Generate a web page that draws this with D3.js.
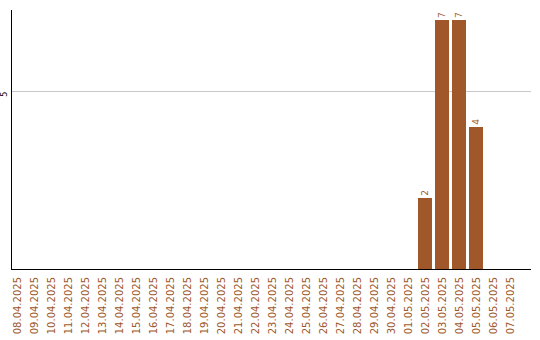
<!DOCTYPE html>
<html>
<head>
<meta charset="utf-8">
<script src="https://cdn.jsdelivr.net/npm/d3@7"></script>
<style>
  html, body { margin: 0; padding: 0; background: #fff; }
  svg { display: block; }
</style>
</head>
<body>
<svg id="chart" width="540" height="340"></svg>
<script>
// Daily counts, 08.04.2025 – 07.05.2025
const dates = [
  "08.04.2025","09.04.2025","10.04.2025","11.04.2025","12.04.2025",
  "13.04.2025","14.04.2025","15.04.2025","16.04.2025","17.04.2025",
  "18.04.2025","19.04.2025","20.04.2025","21.04.2025","22.04.2025",
  "23.04.2025","24.04.2025","25.04.2025","26.04.2025","27.04.2025",
  "28.04.2025","29.04.2025","30.04.2025","01.05.2025","02.05.2025",
  "03.05.2025","04.05.2025","05.05.2025","06.05.2025","07.05.2025"
];
const counts = [
  0,0,0,0,0, 0,0,0,0,0,
  0,0,0,0,0, 0,0,0,0,0,
  0,0,0,0,2, 7,7,4,0,0
];
const yTicks = [5];

const svg = d3.select("#chart");
const plotLeft = 11, plotRight = 531, plotTop = 10, plotBottom = 269;
const barColor = "#a0572a";

const x = d3.scaleBand()
  .domain(dates)
  .range([plotLeft - 2.5, plotLeft - 2.5 + 17 * dates.length])
  .paddingInner(3 / 17)
  .paddingOuter(1.5 / 17);

const y = d3.scaleLinear()
  .domain([0, 7.28])
  .range([plotBottom, plotTop]);

// horizontal gridlines
svg.append("g")
  .selectAll("line")
  .data(yTicks)
  .join("line")
  .attr("x1", plotLeft).attr("x2", plotRight)
  .attr("y1", d => Math.round(y(d)) + 0.5)
  .attr("y2", d => Math.round(y(d)) + 0.5)
  .attr("stroke", "#c8c8c8");

// y tick labels (rotated)
svg.append("g")
  .selectAll("text")
  .data(yTicks)
  .join("text")
  .attr("transform", d => `translate(7,${y(d) + 3}) rotate(-90)`)
  .attr("text-anchor", "middle")
  .attr("font-family", "DejaVu Sans, sans-serif")
  .attr("font-size", 8)
  .attr("fill", "#000")
  .text(d => d);

// bars
const data = dates.map((d, i) => ({ date: d, value: counts[i] }));
svg.append("g")
  .selectAll("rect")
  .data(data.filter(d => d.value > 0))
  .join("rect")
  .attr("x", d => Math.round(x(d.date)))
  .attr("width", Math.round(x.bandwidth()))
  .attr("y", d => Math.round(y(d.value)))
  .attr("height", d => plotBottom - Math.round(y(d.value)))
  .attr("fill", barColor);

// value labels above bars
svg.append("g")
  .selectAll("text")
  .data(data.filter(d => d.value > 0))
  .join("text")
  .attr("transform", d => `translate(${x(d.date) + x.bandwidth() / 2 + 3},${y(d.value) - 2}) rotate(-90)`)
  .attr("text-anchor", "start")
  .attr("font-family", "DejaVu Sans, sans-serif")
  .attr("font-size", 9)
  .attr("fill", barColor)
  .text(d => d.value);

// axis lines
svg.append("line")
  .attr("x1", plotLeft + 0.5).attr("x2", plotLeft + 0.5)
  .attr("y1", plotTop).attr("y2", plotBottom + 1)
  .attr("stroke", "#000");
svg.append("line")
  .attr("x1", plotLeft).attr("x2", plotRight)
  .attr("y1", plotBottom + 0.5).attr("y2", plotBottom + 0.5)
  .attr("stroke", "#000");

// date labels (rotated)
svg.append("g")
  .selectAll("text")
  .data(dates)
  .join("text")
  .attr("transform", d => `translate(${x(d) + x.bandwidth() / 2 + 3.5},277) rotate(-90)`)
  .attr("text-anchor", "end")
  .attr("font-family", "DejaVu Sans, sans-serif")
  .attr("font-size", 10)
  .attr("fill", barColor)
  .text(d => d);
</script>
</body>
</html>
